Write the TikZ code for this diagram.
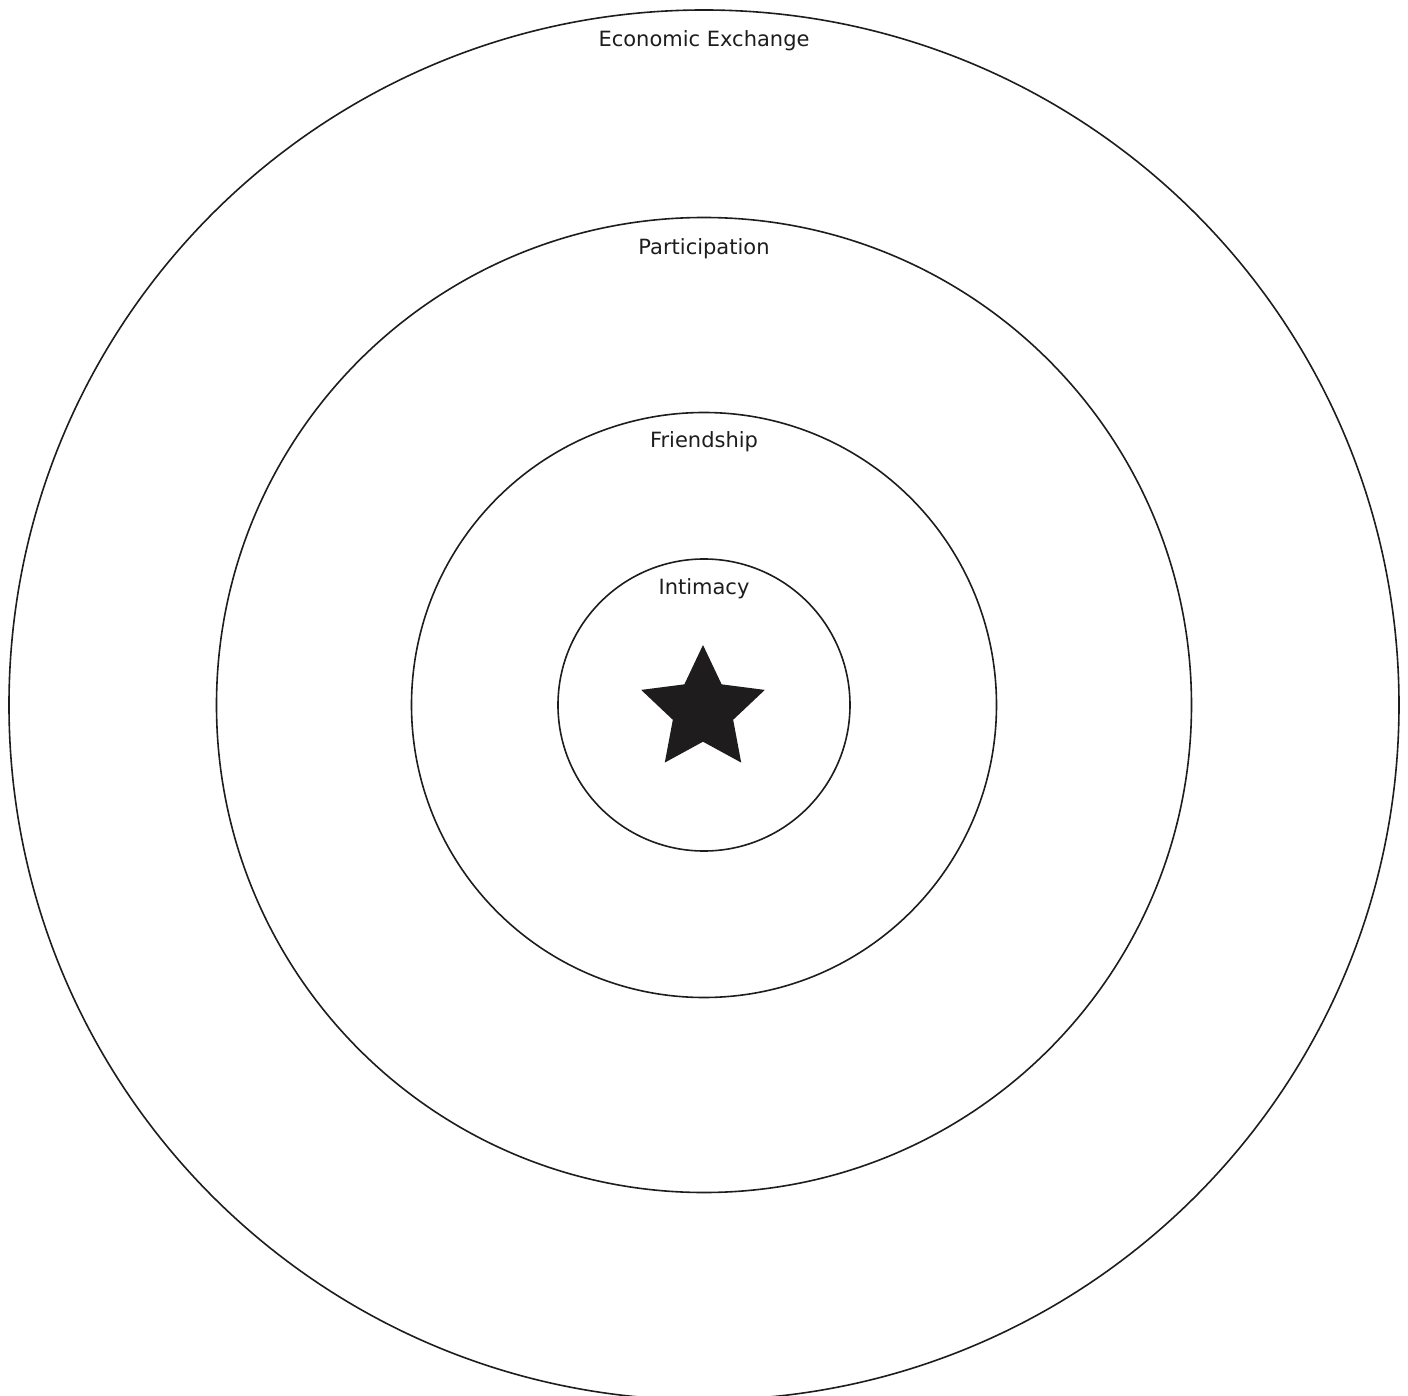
\documentclass[tikz,border=0pt]{standalone}
\usepackage{fontspec}
\setmainfont{DejaVu Sans}
\usetikzlibrary{shapes.geometric}
\definecolor{Ink}{RGB}{30,28,29}
\tikzset{
  ring/.style={circle,draw=Ink,line width=1.6pt,inner sep=0pt,outer sep=0pt},
  ringlabel/.style={anchor=base,inner sep=0pt,text=Ink,font=\fontsize{21}{25}\selectfont},
  centerstar/.style={star,star points=5,star point ratio=2.05,fill=Ink,draw=none,inner sep=0pt,minimum size=130pt}
}

\begin{document}
\begin{tikzpicture}[x=1pt,y=1pt]
\useasboundingbox (-704,-690) rectangle (704,705);
\coordinate (O) at (0,0);

\node[ring,minimum size=1390pt] (exchange) at (O) {};
\node[ring,minimum size=975pt] (participation) at (O) {};
\node[ring,minimum size=585pt] (friendship) at (O) {};
\node[ring,minimum size=292pt] (intimacy) at (O) {};

\node[ringlabel] (exchangelabel) at ([yshift=-37pt]exchange.north) {Economic Exchange};
\node[ringlabel] (participationlabel) at ([yshift=-37pt]participation.north) {Participation};
\node[ringlabel] (friendshiplabel) at ([yshift=-35pt]friendship.north) {Friendship};
\node[ringlabel] (intimacylabel) at ([yshift=-35pt]intimacy.north) {Intimacy};

\node[centerstar] (self) at (-1,-5) {};
\end{tikzpicture}
\end{document}
